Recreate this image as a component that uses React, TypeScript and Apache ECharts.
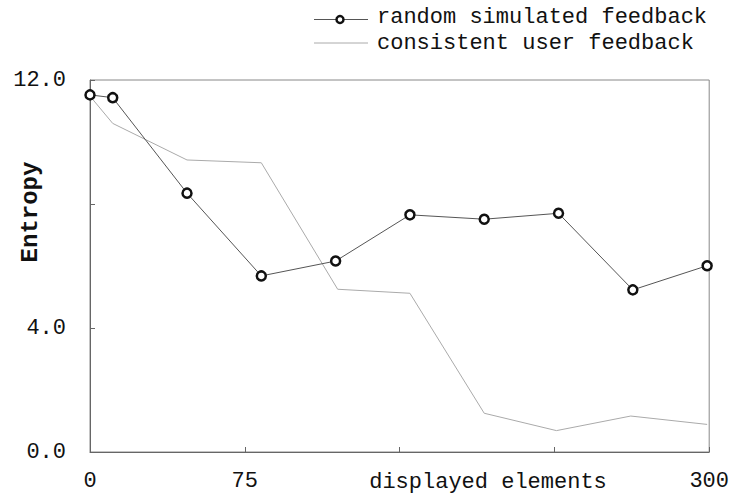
import React, { useEffect, useRef } from "react";
import * as echarts from "echarts";

const xRandom = [0, 11, 47, 83, 119, 155, 191, 227, 263, 299];
const yRandom = [11.52, 11.43, 8.35, 5.68, 6.16, 7.65, 7.51, 7.7, 5.23, 6.01];
const xConsistent = [0, 11, 47, 83, 120, 155, 191, 226, 262, 299];
const yConsistent = [11.48, 10.6, 9.42, 9.33, 5.25, 5.12, 1.25, 0.69, 1.16, 0.89];
const xTickLabels = ["0", "75", "300"];
const yTickLabels = ["0.0", "4.0", "12.0"];
const seriesNames = ["random simulated feedback", "consistent user feedback"];
const xTitle = "displayed elements";
const yTitle = "Entropy";

const FONT = "'Liberation Mono', 'DejaVu Sans Mono', monospace";
const RANDOM_LINE = "#555";
const CONSISTENT_LINE = "#aaa";
const MARKER = "#111";

export default function App() {
  const ref = useRef<HTMLDivElement>(null);
  useEffect(() => {
    if (!ref.current) return;
    const chart = echarts.init(ref.current, null, { renderer: "svg" });
    const legendRows = [19.5, 43];
    const legendTextY = [17.5, 43];
    chart.setOption({
      animation: false,
      backgroundColor: "#fff",
      grid: {
        left: 90,
        right: 19,
        top: 80,
        bottom: 42,
        show: true,
        borderColor: "#888",
        borderWidth: 1,
      },
      xAxis: {
        type: "value",
        min: 0,
        max: 300,
        interval: 75,
        splitLine: { show: false },
        axisLine: { show: true, lineStyle: { color: "#666", width: 1 } },
        axisTick: { show: true, inside: true, length: 5, lineStyle: { color: "#666" } },
        axisLabel: {
          margin: 18,
          fontFamily: FONT,
          fontSize: 22,
          color: "#111",
          formatter: (v: number) => (xTickLabels.includes(String(v)) ? String(v) : ""),
        },
      },
      yAxis: {
        type: "value",
        min: 0,
        max: 12,
        interval: 4,
        splitLine: { show: false },
        axisLine: { show: true, lineStyle: { color: "#666", width: 1 } },
        axisTick: { show: true, inside: true, length: 5, lineStyle: { color: "#666" } },
        axisLabel: {
          margin: 24,
          fontFamily: FONT,
          fontSize: 22,
          color: "#111",
          formatter: (v: number) => {
            const s = v.toFixed(1);
            return yTickLabels.includes(s) ? s : "";
          },
        },
      },
      graphic: [
        {
          type: "text",
          x: 488,
          y: 482,
          style: {
            text: xTitle,
            font: `22px ${FONT}`,
            fill: "#111",
            align: "center",
            verticalAlign: "middle",
          },
        },
        {
          type: "text",
          x: 30,
          y: 212,
          rotation: Math.PI / 2,
          style: {
            text: yTitle,
            font: `bold 24px ${FONT}`,
            fill: "#111",
            align: "center",
            verticalAlign: "middle",
          },
        },
        {
          type: "line",
          shape: { x1: 314, y1: legendRows[0], x2: 368, y2: legendRows[0] },
          style: { stroke: RANDOM_LINE, lineWidth: 1 },
        },
        {
          type: "circle",
          shape: { cx: 340, cy: legendRows[0], r: 3.5 },
          style: { fill: "#fff", stroke: MARKER, lineWidth: 2.5 },
        },
        {
          type: "text",
          x: 377,
          y: legendTextY[0],
          style: {
            text: seriesNames[0],
            font: `22px ${FONT}`,
            fill: "#111",
            align: "left",
            verticalAlign: "middle",
          },
        },
        {
          type: "line",
          shape: { x1: 314, y1: legendRows[1], x2: 368, y2: legendRows[1] },
          style: { stroke: CONSISTENT_LINE, lineWidth: 1 },
        },
        {
          type: "text",
          x: 377,
          y: legendTextY[1],
          style: {
            text: seriesNames[1],
            font: `22px ${FONT}`,
            fill: "#111",
            align: "left",
            verticalAlign: "middle",
          },
        },
      ],
      series: [
        {
          name: seriesNames[0],
          type: "line",
          data: xRandom.map((x, i) => [x, yRandom[i]]),
          symbol: "circle",
          symbolSize: 9,
          lineStyle: { color: RANDOM_LINE, width: 1 },
          itemStyle: { color: "#fff", borderColor: MARKER, borderWidth: 2.5 },
          z: 3,
        },
        {
          name: seriesNames[1],
          type: "line",
          data: xConsistent.map((x, i) => [x, yConsistent[i]]),
          symbol: "none",
          lineStyle: { color: CONSISTENT_LINE, width: 1 },
          z: 2,
        },
      ],
    });
    return () => chart.dispose();
  }, []);
  return <div ref={ref} style={{ width: 732, height: 494, position: "absolute", left: 0, top: 0 }} />;
}
